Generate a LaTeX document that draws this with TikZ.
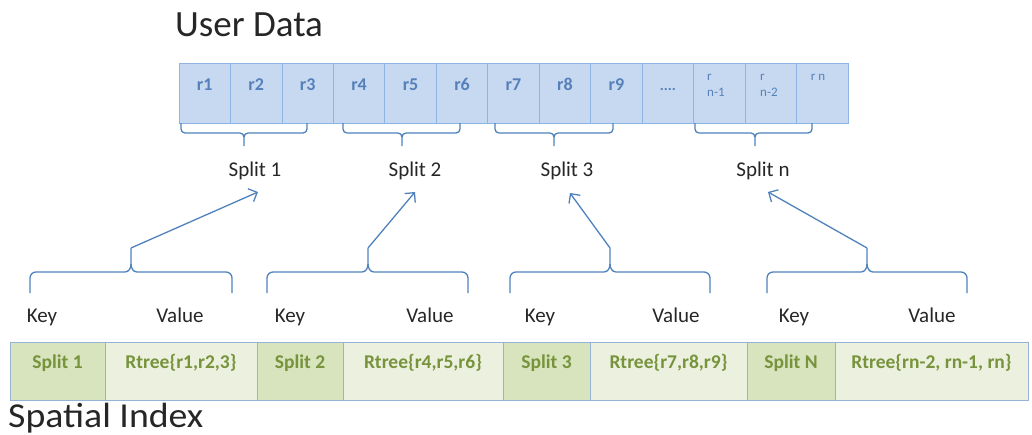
\documentclass[tikz,border=0pt]{standalone}
\usepackage{fontspec}
\setmainfont{Carlito}
\usetikzlibrary{arrows.meta}
\definecolor{bl}{HTML}{4F81BD}
\definecolor{cellfill}{HTML}{C6D9F1}
\definecolor{cellborder}{HTML}{8EB4E3}
\definecolor{celltxt}{HTML}{5580BA}
\definecolor{gdark}{HTML}{D7E4BD}
\definecolor{glight}{HTML}{EBF1DE}
\definecolor{gtxt}{HTML}{77933C}
\definecolor{gborder}{HTML}{95B3D7}
\tikzset{
  topcell/.style={draw=cellborder, fill=cellfill, line width=0.8pt, minimum width=51.46pt, minimum height=60pt, inner sep=0pt},
  rtext/.style={text=celltxt, font=\bfseries\fontsize{18}{20}\selectfont, inner sep=0pt, anchor=base},
  rsmall/.style={text=celltxt, font=\fontsize{13}{16}\selectfont, inner sep=0pt, align=left},
  kcell/.style={draw=gborder, fill=gdark, line width=0.8pt, minimum height=58pt, inner sep=0pt},
  vcell/.style={draw=gborder, fill=glight, line width=0.8pt, minimum height=58pt, inner sep=0pt},
  gtext/.style={text=gtxt, font=\bfseries\fontsize{19.5}{22}\selectfont, inner sep=0pt, anchor=base},
  lab/.style={text=black!85, font=\fontsize{21}{23}\selectfont, inner sep=0pt, anchor=base},
  title/.style={text=black!85, font=\fontsize{37}{40}\selectfont, inner sep=0pt},
  brace/.style={draw=bl, line width=1.3pt},
  arr/.style={draw=bl, line width=1.3pt, -{Straight Barb[length=7pt,width=14pt]}}
}
\begin{document}
\begin{tikzpicture}[x=1pt,y=-1pt]
\useasboundingbox (0,0) rectangle (1032,434);
% titles
\node[title, anchor=base west] (ud) at (175,36) {User Data};
\node[title, anchor=base west, font=\fontsize{35}{38}\selectfont] (si) at (8,427) {\scalebox{1.08}[1]{Spatial Index}};
% top cells
\foreach \i in {1,...,13} {
  \node[topcell] (c\i) at ({179+(\i-0.5)*51.46},93) {};
}
\foreach \i in {1,...,9} {
  \node[rtext] (l\i) at ([yshift=2.5pt]c\i.center) {r\i};
}
\node[rtext, font=\bfseries\fontsize{15}{16}\selectfont] (l10) at ([yshift=3pt]c10.center) {....};
\node[rsmall, anchor=north west] (l11) at (707,74) {r\\n-1};
\node[rsmall, anchor=north west] (l12) at (760,74) {r\\n-2};
\node[rsmall, anchor=north] (l13) at (818,74) {r n};
% top braces
\foreach \a/\b/\m [count=\k] in {181/307/244, 343/460/402, 495/613/554, 695/812/755} {
  \draw[brace] (\a,123) -- (\a,129) to[out=-90,in=180] (\a+4,133) -- (\m-4,133) to[out=0,in=90] (\m,137) -- (\m,146);
  \draw[brace] (\b,123) -- (\b,129) to[out=-90,in=0] (\b-4,133) -- (\m+4,133) to[out=180,in=90] (\m,137);
}
% split labels
\node[lab] (s1) at (255,176) {Split 1};
\node[lab] (s2) at (415,176) {Split 2};
\node[lab] (s3) at (567,176) {Split 3};
\node[lab] (s4) at (763,176) {Split n};
% arrow tips
\coordinate (a1) at (258,192);
\coordinate (a2) at (415,192);
\coordinate (a3) at (570,193);
\coordinate (a4) at (768,192);
% lower braces
\foreach \a/\b/\m [count=\k] in {30/232/131, 267/468/368, 510/710/610, 767/967/867} {
  \coordinate (p\k) at (\m,248);
  \draw[brace] (p\k) -- (\m,264) to[out=-90,in=0] (\m-6,272) -- (\a+6,272) to[out=180,in=90] (\a,278) -- (\a,293);
  \draw[brace] (\m,264) to[out=-90,in=180] (\m+6,272) -- (\b-6,272) to[out=0,in=90] (\b,278) -- (\b,293);
}
\foreach \k in {1,...,4} { \draw[arr] (p\k) -- (a\k); }
% key / value labels
\node[lab] (k1) at (42,322) {Key};
\node[lab] (v1) at (180,322) {Value};
\node[lab] (k2) at (290,322) {Key};
\node[lab] (v2) at (430,322) {Value};
\node[lab] (k3) at (540,322) {Key};
\node[lab] (v3) at (676,322) {Value};
\node[lab] (k4) at (794,322) {Key};
\node[lab] (v4) at (932,322) {Value};
% bottom row
\node[kcell, minimum width=95pt] (b1) at (57.5,371) {};
\node[vcell, minimum width=152pt] (b2) at (181,371) {};
\node[kcell, minimum width=86pt] (b3) at (300,371) {};
\node[vcell, minimum width=160pt] (b4) at (423,371) {};
\node[kcell, minimum width=87pt] (b5) at (546.5,371) {};
\node[vcell, minimum width=157pt] (b6) at (668.5,371) {};
\node[kcell, minimum width=88pt] (b7) at (791,371) {};
\node[vcell, minimum width=193pt] (b8) at (931.5,371) {};
\node[gtext] (g1) at ([yshift=3pt]b1.center) {Split 1};
\node[gtext] (g2) at ([yshift=3pt]b2.center) {Rtree\{r1,r2,3\}};
\node[gtext] (g3) at ([yshift=3pt]b3.center) {Split 2};
\node[gtext] (g4) at ([yshift=3pt]b4.center) {Rtree\{r4,r5,r6\}};
\node[gtext] (g5) at ([yshift=3pt]b5.center) {Split 3};
\node[gtext] (g6) at ([yshift=3pt]b6.center) {Rtree\{r7,r8,r9\}};
\node[gtext] (g7) at ([yshift=3pt]b7.center) {Split N};
\node[gtext] (g8) at ([yshift=3pt]b8.center) {Rtree\{rn-2, rn-1, rn\}};
\end{tikzpicture}
\end{document}
